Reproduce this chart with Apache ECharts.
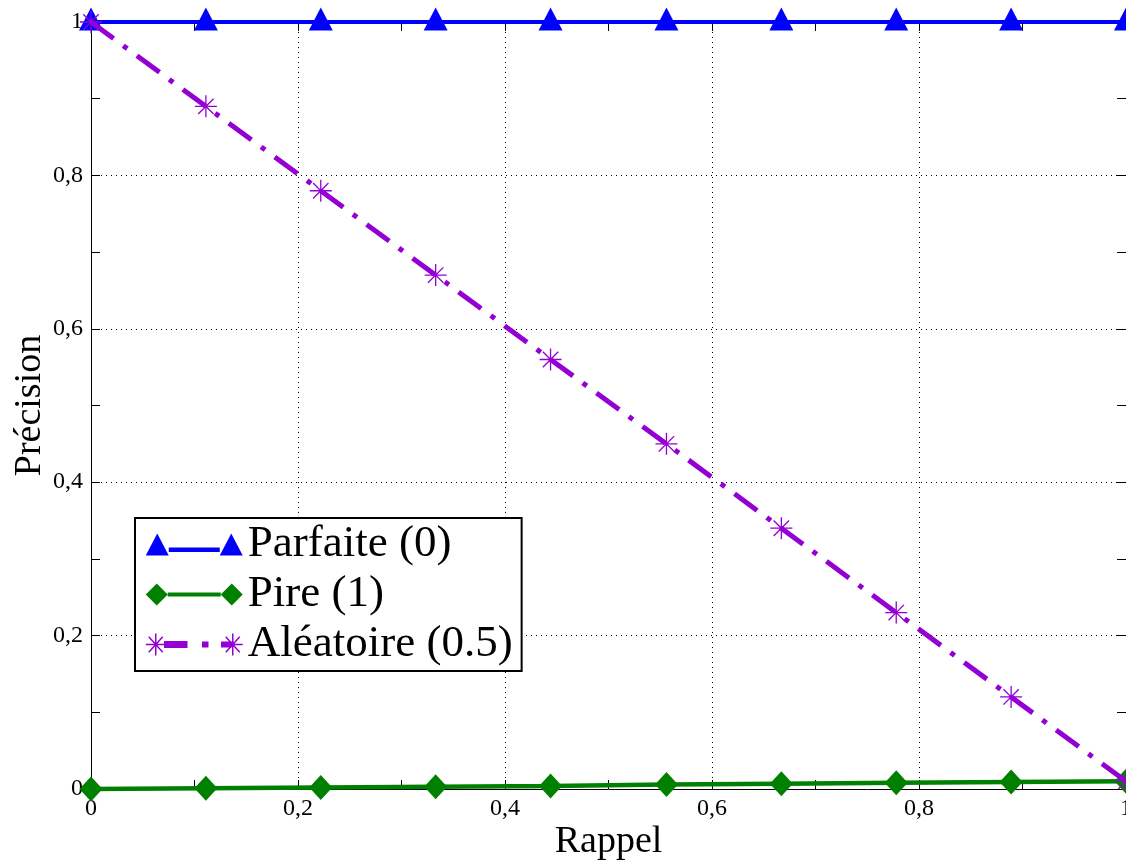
<!DOCTYPE html>
<html>
<head>
<meta charset="utf-8">
<script src="https://cdn.jsdelivr.net/npm/echarts@6/dist/echarts.min.js"></script>
<style>
html,body{margin:0;padding:0;background:#fff;overflow:hidden;}
#chart{width:1126px;height:863px;}
</style>
</head>
<body>
<div id="chart"></div>
<script>
// Data
const rappel = [0, 0.111, 0.222, 0.333, 0.444, 0.556, 0.667, 0.778, 0.889, 1];
const parfaite = [1, 1, 1, 1, 1, 1, 1, 1, 1, 1];
const pire = [0, 0.001, 0.002, 0.003, 0.004, 0.006, 0.007, 0.008, 0.009, 0.01];
const aleatoire = [1, 0.89, 0.78, 0.67, 0.56, 0.45, 0.34, 0.23, 0.12, 0.01];
const seriesNames = ['Parfaite (0)', 'Pire (1)', 'Aléatoire (0.5)'];
const xTitle = 'Rappel';
const yTitle = 'Précision';

const FONT = '"Liberation Serif", "Times New Roman", serif';
const BLUE = '#0000ff', GREEN = '#008000', PURPLE = '#9400d3';

function pairs(ys) { return rappel.map((x, i) => [x, ys[i]]); }
function fmt(v) {
  const r = Math.round(v * 10) / 10;
  if (Math.abs(r * 10 % 2) > 0.001) return '';
  return String(r).replace('.', ',');
}

const asterisk = 'path://M10 0 L10 20 M0 10 L20 10 M3 3 L17 17 M3 17 L17 3';
const iconBlue = 'path://M0 22 L11.5 0 L23 22 Z M23 14 L74 14 L74 18.5 L23 18.5 Z M74 22 L85.5 0 L97 22 Z';
const iconGreen = 'path://M0 11 L11 0 L22 11 L11 22 Z M22 9 L75 9 L75 13 L22 13 Z M75 11 L86 0 L97 11 L86 22 Z';
const iconPurple = 'path://M10 1 L10 21 M0 11 L20 11 M3 4 L17 18 M3 18 L17 4 M19 8.5 L41 8.5 L41 13.5 L19 13.5 Z M57 9 L62 9 L62 13 L57 13 Z M76 9 L87 9 L87 13 L76 13 Z M87 1 L87 21 M77 11 L97 11 M80 4 L94 18 M80 18 L94 4';

const tickCommon = { show: true, inside: true, length: 9, lineStyle: { color: '#000', width: 1 } };
const minorCommon = { show: true, splitNumber: 2, length: 9, lineStyle: { color: '#000', width: 1 } };
const gridDots = { show: true, lineStyle: { color: '#000', width: 1, type: [1, 4] } };

const option = {
  backgroundColor: '#fff',
  animation: false,
  grid: { left: 91, right: 0, top: 22, bottom: 74, containLabel: false, outerBoundsMode: 'none' },
  xAxis: [{
    type: 'value', min: 0, max: 1, interval: 0.2, position: 'bottom',
    name: xTitle, nameLocation: 'middle', nameGap: 34, nameMoveOverlap: false,
    nameTextStyle: { fontFamily: FONT, fontSize: 38, color: '#000' },
    axisLine: { show: true, onZero: false, lineStyle: { color: '#000', width: 1 } },
    axisTick: tickCommon, minorTick: minorCommon,
    axisLabel: { show: true, formatter: fmt, fontFamily: FONT, fontSize: 24, color: '#000', margin: 8 },
    splitLine: gridDots
  }, {
    type: 'value', min: 0, max: 1, interval: 0.2, position: 'top',
    axisLine: { show: true, onZero: false, lineStyle: { color: '#000', width: 1 } },
    axisTick: tickCommon, minorTick: minorCommon,
    axisLabel: { show: false }, splitLine: { show: false }
  }],
  yAxis: [{
    type: 'value', min: 0, max: 1, interval: 0.2, position: 'left',
    name: yTitle, nameLocation: 'middle', nameGap: 42, nameMoveOverlap: false,
    nameTextStyle: { fontFamily: FONT, fontSize: 38, color: '#000' },
    axisLine: { show: true, onZero: false, lineStyle: { color: '#000', width: 1 } },
    axisTick: tickCommon, minorTick: minorCommon,
    axisLabel: { show: true, formatter: fmt, fontFamily: FONT, fontSize: 24, color: '#000', margin: 8 },
    splitLine: gridDots
  }, {
    type: 'value', min: 0, max: 1, interval: 0.2, position: 'right',
    axisLine: { show: true, onZero: false, lineStyle: { color: '#000', width: 1 } },
    axisTick: tickCommon, minorTick: minorCommon,
    axisLabel: { show: false }, splitLine: { show: false }
  }],
  legend: {
    left: 135, top: 518, orient: 'vertical',
    backgroundColor: '#fff', borderColor: '#000', borderWidth: 2,
    padding: [4, 9, 4, 10],
    itemWidth: 97, itemHeight: 22, itemGap: 5, itemTextGap: 8,
    symbolKeepAspect: false,
    textStyle: { fontFamily: FONT, fontSize: 45, lineHeight: 44, color: '#000' },
    data: [
      { name: seriesNames[0], icon: iconBlue, itemStyle: { color: BLUE, borderWidth: 0 } },
      { name: seriesNames[1], icon: iconGreen, itemStyle: { color: GREEN, borderWidth: 0 } },
      { name: seriesNames[2], icon: iconPurple, itemStyle: { color: PURPLE, borderColor: PURPLE, borderWidth: 1.5 } }
    ]
  },
  series: [{
    name: seriesNames[0], type: 'line', data: pairs(parfaite), clip: false,
    symbol: 'triangle', symbolSize: [24, 23], symbolOffset: [0, -3],
    lineStyle: { color: BLUE, width: 4 },
    itemStyle: { color: BLUE },
    z: 3
  }, {
    name: seriesNames[1], type: 'line', data: pairs(pire), clip: false,
    symbol: 'diamond', symbolSize: [23, 25],
    lineStyle: { color: GREEN, width: 4.5 },
    itemStyle: { color: GREEN },
    z: 4
  }, {
    name: seriesNames[2], type: 'line', data: pairs(aleatoire), clip: false,
    symbol: asterisk, symbolSize: 22,
    lineStyle: { color: PURPLE, width: 5, type: [28, 12, 5, 12], cap: 'butt' },
    itemStyle: { color: PURPLE, borderColor: PURPLE, borderWidth: 1.3 },
    z: 5
  }]
};

const chart = echarts.init(document.getElementById('chart'), null, { renderer: 'canvas' });
chart.setOption(option);
</script>
</body>
</html>
